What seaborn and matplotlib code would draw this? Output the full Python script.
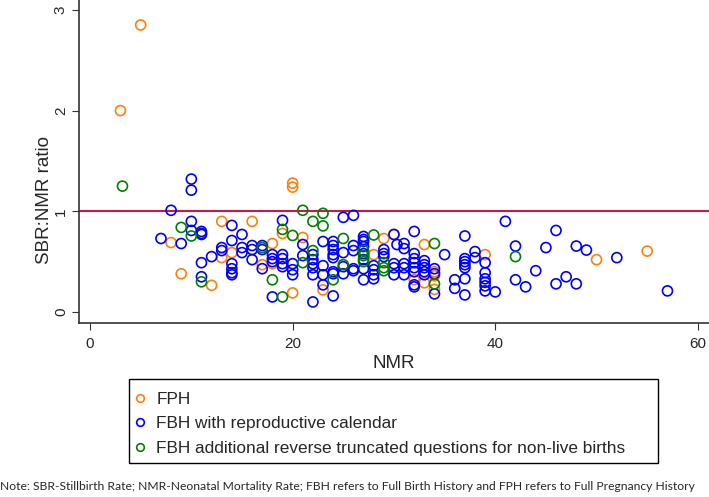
import matplotlib
matplotlib.use("Agg")
import matplotlib.pyplot as plt
from matplotlib.lines import Line2D
from matplotlib.patches import Rectangle
import seaborn as sns
import pandas as pd

# ---- data ----
fph_nmr = [3, 5, 8, 9, 12, 13, 13, 14, 16, 17, 18, 18, 19, 20, 20, 20, 21, 23,
           28, 29, 30, 32, 33, 33, 34, 34, 34, 39, 50, 55]
fph_ratio = [2.00, 2.85, 0.69, 0.38, 0.265, 0.90, 0.54, 0.59, 0.90, 0.47, 0.68, 0.48,
             0.78, 1.28, 1.24, 0.19, 0.74, 0.22, 0.57, 0.73, 0.77, 0.32, 0.67, 0.29,
             0.40, 0.36, 0.225, 0.57, 0.52, 0.605]

fbh_nmr = [7, 8, 9,
           10, 10, 10, 10,
           11, 11, 11, 11, 11,
           12, 13, 13,
           14, 14, 14, 14, 14, 14,
           15, 15, 15,
           16, 16, 16,
           17, 17, 17,
           18, 18, 18, 18,
           19, 19, 19, 19, 19,
           20, 20, 20,
           21, 21,
           22, 22, 22, 22, 22, 22,
           23, 23, 23, 23,
           24, 24, 24, 24, 24, 24, 24, 24,
           25, 25, 25, 25,
           26, 26, 26, 26, 26,
           27, 27, 27, 27, 27, 27, 27, 27,
           28, 28, 28, 28,
           29, 29, 29,
           30, 30, 30, 30, 30.3,
           31, 31, 31, 31, 31,
           32, 32, 32, 32, 32, 32, 32, 32,
           33, 33, 33, 33, 33,
           34, 34, 34,
           35, 36, 36,
           37, 37, 37, 37, 37, 37, 37,
           38, 38,
           39, 39, 39, 39, 39, 39,
           40, 41, 42, 42, 43, 44, 45, 46, 46, 47, 48, 48, 49, 52, 57]
fbh_ratio = [0.73, 1.01, 0.68,
             1.32, 1.21, 0.90, 0.81,
             0.80, 0.78, 0.77, 0.49, 0.35,
             0.55, 0.64, 0.61,
             0.86, 0.71, 0.48, 0.43, 0.39, 0.37,
             0.77, 0.64, 0.59,
             0.66, 0.62, 0.52,
             0.66, 0.62, 0.43,
             0.57, 0.53, 0.50, 0.15,
             0.91, 0.57, 0.53, 0.48, 0.45,
             0.48, 0.42, 0.37,
             0.67, 0.56,
             0.57, 0.52, 0.48, 0.44, 0.37, 0.10,
             0.70, 0.46, 0.37, 0.27,
             0.70, 0.66, 0.62, 0.57, 0.54, 0.40, 0.38, 0.16,
             0.94, 0.59, 0.45, 0.38,
             0.96, 0.66, 0.61, 0.43, 0.41,
             0.75, 0.72, 0.70, 0.65, 0.58, 0.52, 0.43, 0.32,
             0.46, 0.42, 0.37, 0.33,
             0.62, 0.58, 0.55,
             0.77, 0.48, 0.44, 0.37, 0.67,
             0.68, 0.63, 0.48, 0.44, 0.37,
             0.80, 0.58, 0.53, 0.49, 0.44, 0.40, 0.27, 0.25,
             0.51, 0.47, 0.44, 0.40, 0.37,
             0.43, 0.38, 0.18,
             0.57, 0.32, 0.235,
             0.755, 0.53, 0.50, 0.47, 0.44, 0.33, 0.17,
             0.60, 0.54,
             0.49, 0.39, 0.33, 0.295, 0.26, 0.21,
             0.20, 0.90, 0.655, 0.32, 0.25, 0.41, 0.64, 0.81, 0.28, 0.35, 0.655, 0.28,
             0.615, 0.54, 0.21]

rt_nmr = [3.2, 9, 10, 11, 17, 18, 19, 19, 20, 21, 21, 22, 22, 23, 23, 24, 25, 25,
          27, 27, 27, 28, 29, 29, 29, 34, 34, 42]
rt_ratio = [1.25, 0.84, 0.755, 0.30, 0.64, 0.32, 0.82, 0.15, 0.76, 1.01, 0.49, 0.90,
            0.61, 0.98, 0.855, 0.32, 0.73, 0.47, 0.61, 0.56, 0.50, 0.765, 0.49, 0.44,
            0.41, 0.68, 0.28, 0.55]

labels = ["FPH", "FBH with reproductive calendar",
          "FBH additional reverse truncated questions for non-live births"]
colors = ["#ff7f0e", "#0000ff", "#008000"]
x_ticks = [0, 20, 40, 60]
y_ticks = [0, 1, 2, 3]
ref_value = 1.0

df = pd.concat([
    pd.DataFrame({"NMR": fph_nmr, "ratio": fph_ratio, "group": labels[0]}),
    pd.DataFrame({"NMR": fbh_nmr, "ratio": fbh_ratio, "group": labels[1]}),
    pd.DataFrame({"NMR": rt_nmr, "ratio": rt_ratio, "group": labels[2]}),
], ignore_index=True)

sns.set_style("white")
plt.rcParams["font.family"] = ["Liberation Sans", "DejaVu Sans"]

W, H = 709, 497
fig = plt.figure(figsize=(W / 100, H / 100), dpi=100)
ax = fig.add_axes([79 / W, 1 - 323 / H, 1 - 79 / W, 323 / H])

sns.scatterplot(data=df, x="NMR", y="ratio", hue="group", hue_order=labels,
                palette=colors, s=52, linewidth=1.2, legend=False, ax=ax, zorder=3)
for coll in ax.collections:
    fc = coll.get_facecolors()
    coll.set_edgecolors(fc)
    coll.set_facecolors("none")

ax.axhline(ref_value, color="#c8174b", lw=1.5, zorder=2)

ax.set_xlim(-1.09, 61.1)
ax.set_ylim(-0.109, 3.098)
ax.set_xticks(x_ticks)
ax.set_yticks(y_ticks)
ax.tick_params(axis="both", direction="out", length=5, width=0.8, color="#333333",
               labelsize=11, left=True, bottom=True, pad=3)
ax.tick_params(axis="x", pad=5)
for lab in ax.get_yticklabels():
    lab.set_rotation(90)
    lab.set_va("center")
for side in ["top", "right"]:
    ax.spines[side].set_visible(False)
for side in ["left", "bottom"]:
    ax.spines[side].set_color("#333333")
    ax.spines[side].set_linewidth(1.2)
ax.set_xlabel("NMR", fontsize=13.5, labelpad=3)
ax.set_ylabel("SBR:NMR ratio", fontsize=13.5)
ax.yaxis.set_label_coords((53 - 79) / (W - 79), (323 - 200) / 323)

handles = [Line2D([], [], marker="o", ls="none", markersize=5.5, markerfacecolor="none",
                  markeredgecolor=c, markeredgewidth=1.2) for c in colors]
leg = fig.legend(handles, labels, loc="upper left", bbox_to_anchor=(124 / W, 1 - 383 / H),
                 frameon=False, fontsize=12.4, handletextpad=0.58,
                 handlelength=0.8, borderpad=0.5, labelspacing=0.56, borderaxespad=0)
fig.patches.append(Rectangle((129 / W, 1 - 463 / H), 529 / W, 84 / H, fill=False,
                             lw=1.0, edgecolor="black", transform=fig.transFigure,
                             figure=fig))

fig.text(0.0, 1 - 486 / H,
         "Note: SBR-Stillbirth Rate; NMR-Neonatal Mortality Rate; FBH refers to Full Birth History and FPH refers to Full Pregnancy History",
         fontsize=8.7, family=["Lato", "DejaVu Sans"], va="center", ha="left")

fig.savefig("out.png", dpi=100)
